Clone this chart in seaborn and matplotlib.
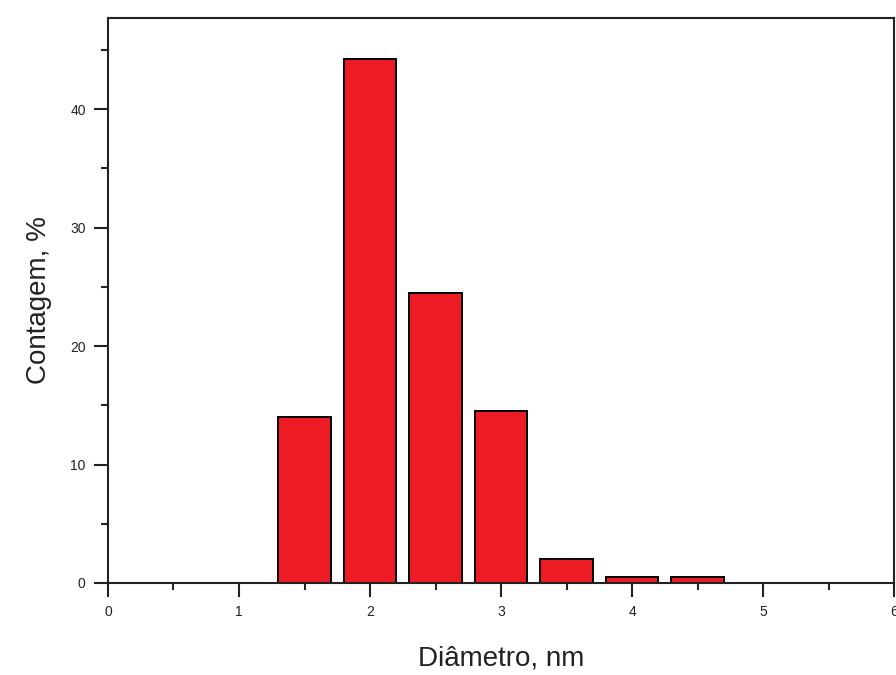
import pandas as pd
import matplotlib
matplotlib.use("Agg")
import matplotlib.pyplot as plt
import seaborn as sns
from matplotlib.ticker import MultipleLocator

# histogram bins (centres, nm) and counts (%)
diameter = [1.5, 2.0, 2.5, 3.0, 3.5, 4.0, 4.5]
count_pct = [14.0, 44.2, 24.5, 14.5, 2.0, 0.5, 0.5]

df = pd.DataFrame({"diameter": diameter, "count": count_pct})

sns.set_style("ticks")
plt.rcParams["font.family"] = ["Liberation Sans", "DejaVu Sans"]

fig = plt.figure(figsize=(8.96, 6.75), dpi=100)
ax = fig.add_axes([0.1205, 0.1363, 0.8775, 0.837])

sns.barplot(data=df, x="diameter", y="count", native_scale=True, width=0.8,
            color="#ED1C24", saturation=1, edgecolor="black", linewidth=1.4, ax=ax)

ax.set_xlim(0, 6)
ax.set_ylim(0, 47.7)
ax.xaxis.set_major_locator(MultipleLocator(1))
ax.xaxis.set_minor_locator(MultipleLocator(0.5))
ax.yaxis.set_major_locator(MultipleLocator(10))
ax.yaxis.set_minor_locator(MultipleLocator(5))
ax.tick_params(which="major", direction="out", length=10, width=1.5, labelsize=10, pad=6, colors="#222222")
ax.tick_params(which="minor", direction="out", length=5, width=1.5)
ax.tick_params(top=False, right=False, which="both")

for s in ax.spines.values():
    s.set_linewidth(1.5)
    s.set_color("#222222")

ax.set_xlabel("Diâmetro, nm", fontsize=20, labelpad=19, color="#222222")
ax.set_ylabel("Contagem, %", fontsize=20, labelpad=13, color="#222222")

fig.savefig("out.png", dpi=100)
